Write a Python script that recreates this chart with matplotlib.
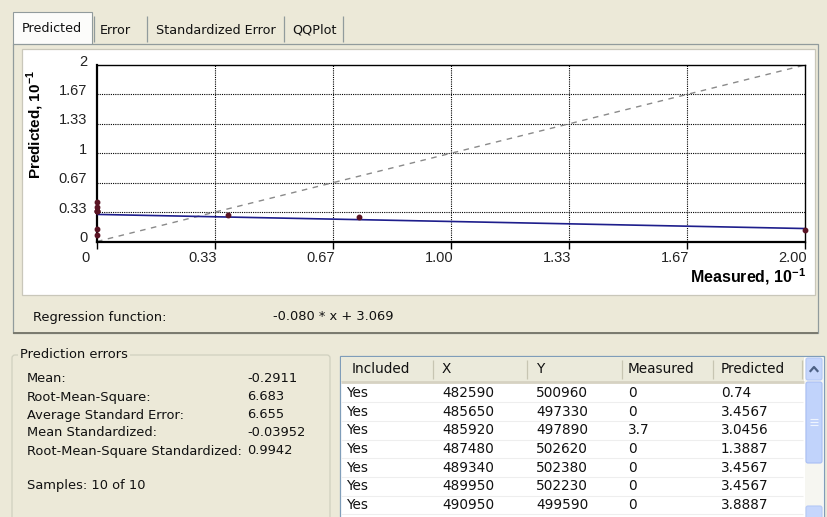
import numpy as np
import matplotlib
matplotlib.use("Agg")
import matplotlib.pyplot as plt
from matplotlib.patches import Rectangle, FancyBboxPatch
from matplotlib.transforms import ScaledTranslation

W, H = 827, 517
DPI = 100

# cross-validation samples, raw units (chart axes are in units of 10^-1)
measured = [0, 0, 3.7, 0, 0, 0, 0, 0, 7.4, 20]
predicted = [0.74, 3.4567, 3.0456, 1.3887, 3.4567, 3.4567, 3.8887, 4.5, 2.8, 1.25]
included = ["Yes"] * 10
coord_x = [482590, 485650, 485920, 487480, 489340, 489950, 490950]
coord_y = [500960, 497330, 497890, 502620, 502380, 502230, 499590]
unit_scale = 0.1

# regression of predicted on measured
slope = -0.080
intercept = 3.069

x_ticklabels = ["0", "0.33", "0.67", "1.00", "1.33", "1.67", "2.00"]
y_ticklabels = ["0", "0.33", "0.67", "1", "1.33", "1.67", "2"]

stat_names = ["Mean:", "Root-Mean-Square:", "Average Standard Error:",
              "Mean Standardized:", "Root-Mean-Square Standardized:"]
stat_values = ["-0.2911", "6.683", "6.655", "-0.03952", "0.9942"]
n_samples = 10

tab_names = ["Predicted", "Error", "Standardized Error", "QQPlot"]
columns = ["Included", "X", "Y", "Measured", "Predicted"]

BG = "#ECE9D8"
GUI_FONT = ["DejaVu Sans"]
CHART_FONT = ["Liberation Sans Narrow", "Liberation Sans", "DejaVu Sans"]
plt.rcParams["mathtext.fontset"] = "custom"
plt.rcParams["mathtext.bf"] = "Liberation Sans:bold"
plt.rcParams["mathtext.rm"] = "Liberation Sans"

fig = plt.figure(figsize=(W / DPI, H / DPI), dpi=DPI, facecolor=BG)

# pixel-space layer for the dialog chrome
ui = fig.add_axes([0, 0, 1, 1], zorder=0)
ui.set_xlim(0, W)
ui.set_ylim(H, 0)
ui.axis("off")


def gtext(x, y, s, **kw):
    kw.setdefault("fontsize", 9.4)
    kw.setdefault("color", "#111111")
    ui.text(x, y, s, va="center", ha=kw.pop("ha", "left"), family=GUI_FONT, **kw)


def hline(y, x0, x1, c, lw=1.0):
    ui.plot([x0, x1], [y, y], color=c, lw=lw, solid_capstyle="butt")


def vline(x, y0, y1, c, lw=1.0):
    ui.plot([x, x], [y0, y1], color=c, lw=lw, solid_capstyle="butt")


# tab strip
ui.add_patch(Rectangle((13, 12), 79, 33, facecolor="#FCFCFA", edgecolor="#919B9C", lw=0.8))
tab_x = [22, 100, 156, 292]
sep_x = [94, 147, 284, 343]
for name, tx in zip(tab_names, tab_x):
    gtext(tx, 28 if name == "Predicted" else 30, name, fontsize=9.2)
for sx in sep_x:
    vline(sx, 16, 42, "#919B9C", lw=0.9)

# tab page frame
ui.add_patch(Rectangle((13, 44), 805, 289, facecolor=BG, edgecolor="#919B9C", lw=0.9))
hline(333, 13, 818, "#7A7A6E", lw=1.4)

# chart panel
ui.add_patch(Rectangle((22, 49), 793, 246, facecolor="white", edgecolor="#C9C7BA", lw=0.9))

gtext(33, 317, "Regression function:")
gtext(273, 317, "%.3f * x + %.3f" % (slope, intercept))

# prediction errors group box
ui.add_patch(FancyBboxPatch((12, 355), 318, 200, boxstyle="round,pad=0,rounding_size=3",
                            facecolor=BG, edgecolor="#D0D0BF", lw=0.9))
ui.add_patch(Rectangle((18, 347), 112, 16, facecolor=BG, edgecolor="none"))
gtext(20, 355, "Prediction errors")
stat_y = [379, 397, 415, 433, 451]
for name, val, sy in zip(stat_names, stat_values, stat_y):
    gtext(27, sy, name)
    gtext(247, sy, val)
gtext(27, 485, "Samples: %d of %d" % (n_samples, n_samples))

# samples table
tx0, tx1 = 340, 824
ui.add_patch(Rectangle((tx0, 356), tx1 - tx0, 170, facecolor="white", edgecolor="#7F9DB9", lw=0.9))
ui.add_patch(Rectangle((tx0 + 1, 357), 463, 25, facecolor="#EBEADB", edgecolor="none"))
hline(382, tx0 + 1, 804, "#D6D2C2", lw=2)
col_edges = [433, 527, 622, 713, 802]
col_text = [346, 442, 536, 628, 721]
for ce in col_edges:
    vline(ce, 360, 379, "#C7C5B2", lw=0.9)
for name, cx in zip(columns, col_text):
    gtext(cx + (6 if name == "Included" else 0), 369, name, fontsize=9.8)

row_h = 18.67
n_rows = len(coord_x)
for i in range(n_rows):
    ry = 393 + row_h * i
    cells = [included[i], str(coord_x[i]), str(coord_y[i]),
             "%g" % measured[i], "%g" % predicted[i]]
    for c, cx in zip(cells, col_text):
        gtext(cx, ry, c, fontsize=9.8)
    hline(ry + row_h / 2, tx0 + 1, 803, "#EEEEEE", lw=0.8)

# scrollbar
ui.add_patch(Rectangle((805, 357), 18, 160, facecolor="#F6F6F1", edgecolor="none"))
ui.add_patch(FancyBboxPatch((806, 358), 16, 22, boxstyle="round,pad=0,rounding_size=2",
                            facecolor="#C6D6FC", edgecolor="#B4C8F6", lw=0.8))
ui.plot([810.5, 814, 817.5], [371, 367, 371], color="#4D6185", lw=1.6)
ui.add_patch(FancyBboxPatch((806, 382), 16, 81, boxstyle="round,pad=0,rounding_size=2",
                            facecolor="#C1D3FB", edgecolor="#A8BEF5", lw=0.8))
for gy in (419, 422, 425):
    hline(gy, 810, 818, "#EEF4FE", lw=0.8)
ui.add_patch(FancyBboxPatch((806, 506), 16, 14, boxstyle="round,pad=0,rounding_size=2",
                            facecolor="#C6D6FC", edgecolor="#B4C8F6", lw=0.8))

# predicted vs measured chart
ax_l, ax_r, ax_t, ax_b = 97, 805, 65, 241.5
ax = fig.add_axes([ax_l / W, 1 - ax_b / H, (ax_r - ax_l) / W, (ax_b - ax_t) / H], zorder=2)
ax.set_facecolor("white")
ax.set_xlim(0, 2)
ax.set_ylim(0, 2)

thirds = np.arange(7) / 3.0
ax.set_xticks(thirds)
ax.set_yticks(thirds)
ax.set_xticklabels(x_ticklabels, family=CHART_FONT, fontsize=10.5, color="#222222")
ax.set_yticklabels(y_ticklabels, family=CHART_FONT, fontsize=10.5, color="#222222")
ax.tick_params(axis="x", direction="out", length=5, width=1, pad=2, color="black")
ax.tick_params(axis="y", length=0, pad=7)
for lab in ax.get_xticklabels():
    lab.set_transform(lab.get_transform() + ScaledTranslation(-0.12, 0, fig.dpi_scale_trans))
for lab in ax.get_yticklabels():
    lab.set_transform(lab.get_transform() + ScaledTranslation(0, 0.05, fig.dpi_scale_trans))

for g in thirds[1:-1]:
    ax.axhline(g, color="black", lw=0.8, ls=(0, (1, 1)), zorder=1)
    ax.axvline(g, color="black", lw=0.8, ls=(0, (1, 1)), zorder=1)

for side in ("left", "bottom"):
    ax.spines[side].set_linewidth(1.6)
for side in ("top", "right"):
    ax.spines[side].set_linewidth(1.0)

# 1:1 reference line
ax.plot([0, 2], [0, 2], color="#8A8A8A", lw=1.0, ls=(0, (4, 4)), zorder=2)

# regression line
xs = np.array([0, 2.0])
ax.plot(xs, (slope * xs / unit_scale + intercept) * unit_scale, color="#1E1E8C", lw=1.2, zorder=3)

ax.plot(np.array(measured) * unit_scale, np.array(predicted) * unit_scale, "o",
        color="#5A1424", ms=3.2, clip_on=False, zorder=4)

fig.text(35 / W, 1 - 125 / H, r"Predicted, 10$^{\mathbf{-1}}$", rotation=90,
         ha="center", va="center", fontsize=11, fontweight="bold", family=CHART_FONT[1:])
fig.text(806 / W, 1 - 277 / H, r"Measured, 10$^{\mathbf{-1}}$",
         ha="right", va="center", fontsize=11.5, fontweight="bold", family=CHART_FONT[1:])

fig.savefig("out.png", dpi=DPI, facecolor=BG)
